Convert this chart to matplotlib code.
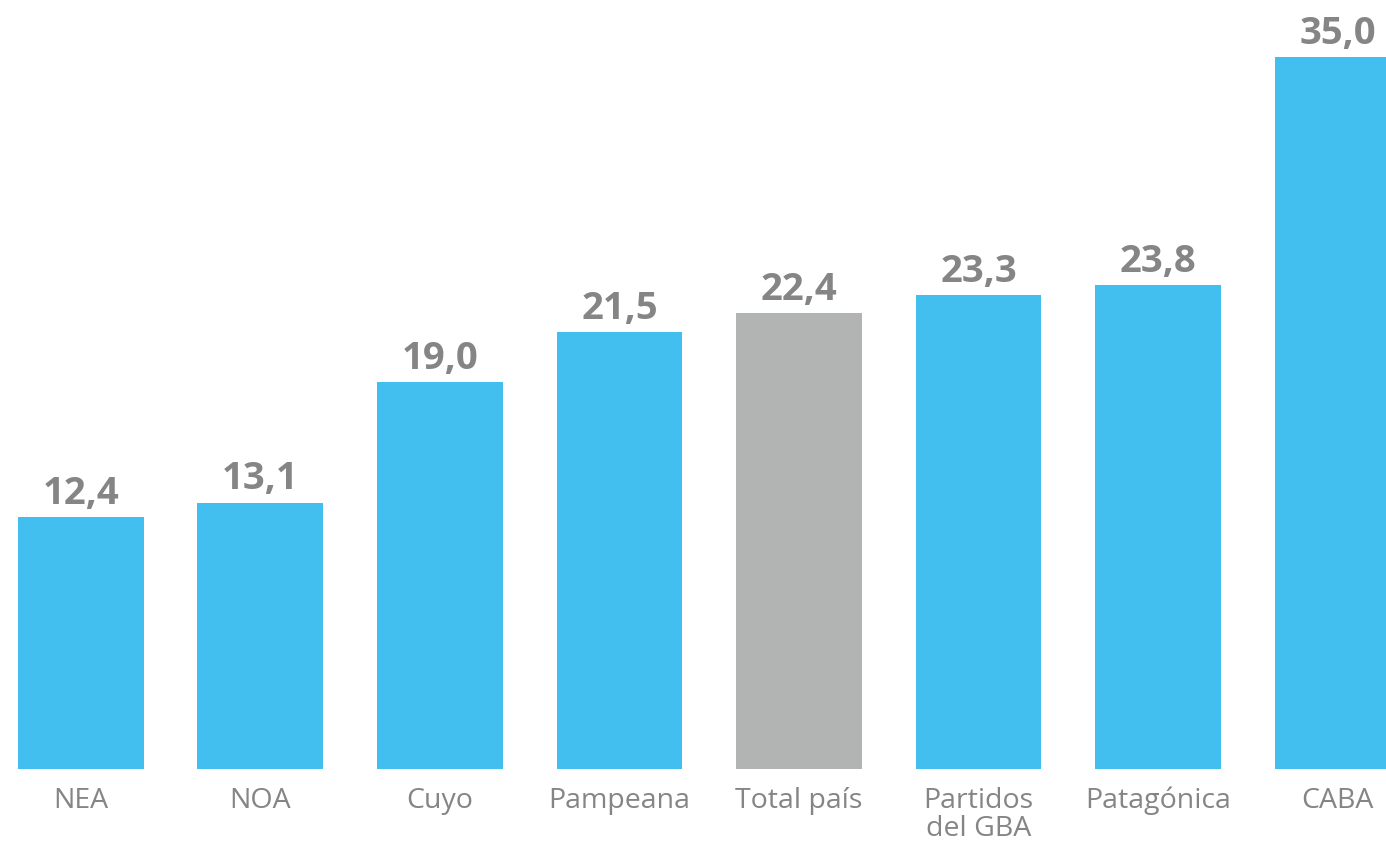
import matplotlib
matplotlib.use("Agg")
from matplotlib import pyplot as plt

regiones = ["NEA", "NOA", "Cuyo", "Pampeana", "Total país", "Partidos\ndel GBA", "Patagónica", "CABA"]
valores = [12.4, 13.1, 19.0, 21.5, 22.4, 23.3, 23.8, 35.0]
colores = ["#42bfee", "#42bfee", "#42bfee", "#42bfee", "#b2b4b3", "#42bfee", "#42bfee", "#42bfee"]

plt.rcParams['font.family'] = ['Open Sans', 'DejaVu Sans']

fig = plt.figure(figsize=(13.86, 8.53), dpi=100)
ax = fig.add_axes([0, 0.0973, 1, 0.9027])

x_values = range(len(regiones))
ax.bar(x_values, valores, width=0.70, color=colores)

# etiquetas de valores sobre las barras
for x, v in zip(x_values, valores):
    ax.text(x, v + 0.25, f"{v:.1f}".replace(".", ","), ha="center", va="bottom",
            fontsize=27.5, fontweight="bold", color="#858585")

ax.set_xlim(-0.45, 7.27)
ax.set_ylim(0, 37.85)
ax.set_xticks(list(x_values))
ax.set_xticklabels(regiones, fontsize=20.5, color="#858585", linespacing=1.0, va="top")
ax.tick_params(axis="x", length=0, pad=12)
ax.set_yticks([])
for s in ax.spines.values():
    s.set_visible(False)

plt.savefig("out.png", dpi=100)
